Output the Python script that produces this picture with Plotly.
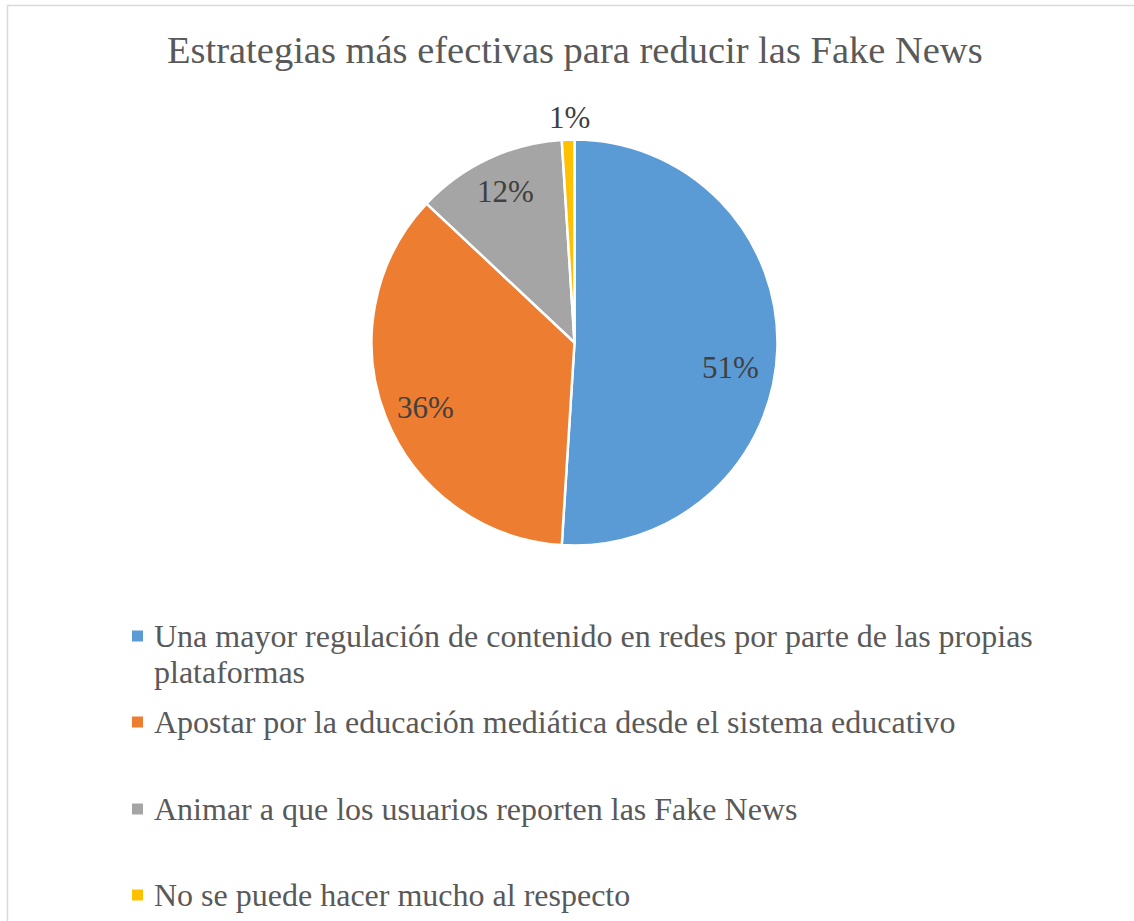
import math
import plotly.graph_objects as go

# Survey results: most effective strategies to reduce fake news
categories = [
    "Una mayor regulación de contenido en redes por parte de las propias plataformas",
    "Apostar por la educación mediática desde el sistema educativo",
    "Animar a que los usuarios reporten las Fake News",
    "No se puede hacer mucho al respecto",
]
# Legend labels as they wrap in the legend block
legend_lines = [
    ["Una mayor regulación de contenido en redes por parte de las propias", "plataformas"],
    ["Apostar por la educación mediática desde el sistema educativo"],
    ["Animar a que los usuarios reporten las Fake News"],
    ["No se puede hacer mucho al respecto"],
]
values = [51, 36, 12, 1]
colors = ["#5B9BD5", "#ED7D31", "#A5A5A5", "#FFC000"]
title_text = "Estrategias más efectivas para reducir las Fake News"

W, H = 1134, 921
FONT = "Liberation Serif, Times New Roman, serif"
TEXT_COLOR = "#595959"
LABEL_COLOR = "#404040"

# Pie placement (pixels)
CX, CY, R = 574.5, 342.5, 203
# Data-label distance from the centre (fraction of radius) and small nudges
label_radius = [0.77, 0.80, 0.82, 1.11]
label_nudge = [(0, 20), (2, 5), (2, 0), (2, 0)]


def px(x):
    return x / W


def py(y):
    return 1 - y / H


fig = go.Figure()

fig.add_trace(go.Pie(
    labels=categories,
    values=values,
    sort=False,
    direction="clockwise",
    rotation=0,
    marker=dict(colors=colors, line=dict(color="white", width=2.5)),
    textinfo="none",
    domain=dict(x=[px(CX - R), px(CX + R)], y=[py(CY + R), py(CY - R)]),
    showlegend=False,
    hoverinfo="label+percent",
))

annotations = [
    dict(text=title_text, x=px(575), y=py(50), xref="paper", yref="paper",
         xanchor="center", yanchor="middle", showarrow=False,
         font=dict(family=FONT, size=38.5, color=TEXT_COLOR)),
]

# Percentage labels placed along each slice's mid-angle (clockwise from 12 o'clock)
total = sum(values)
cum = 0
for v, rf, (nx, ny) in zip(values, label_radius, label_nudge):
    mid = (cum + v / 2) / total * 2 * math.pi
    cum += v
    lx = CX + rf * R * math.sin(mid) + nx
    ly = CY - rf * R * math.cos(mid) + ny
    annotations.append(dict(text=f"{round(v / total * 100)}%", x=px(lx), y=py(ly),
                            xref="paper", yref="paper", xanchor="center",
                            yanchor="middle", showarrow=False,
                            font=dict(family=FONT, size=31, color=LABEL_COLOR)))

shapes = [
    # chart area frame
    dict(type="rect", xref="paper", yref="paper",
         x0=px(7.5), x1=px(W + 20), y0=py(H + 20), y1=py(5.5),
         line=dict(color="#D9D9D9", width=1.5), fillcolor="rgba(0,0,0,0)"),
]

# Legend block: square swatch plus wrapped label for each category
item_centers = [636, 722, 809, 895]
line_gap = 36
for lines, color, yc in zip(legend_lines, colors, item_centers):
    shapes.append(dict(type="rect", xref="paper", yref="paper",
                       x0=px(132), x1=px(143), y0=py(yc + 5.5), y1=py(yc - 5.5),
                       line=dict(width=0), fillcolor=color))
    for i, line in enumerate(lines):
        annotations.append(dict(text=line, x=px(152), y=py(yc + i * line_gap),
                                xref="paper", yref="paper", xanchor="left",
                                yanchor="middle", showarrow=False,
                                font=dict(family=FONT, size=32, color=TEXT_COLOR)))

fig.update_layout(
    width=W, height=H,
    margin=dict(l=0, r=0, t=0, b=0),
    paper_bgcolor="white",
    plot_bgcolor="white",
    annotations=annotations,
    shapes=shapes,
)

fig.write_html("out.html")
